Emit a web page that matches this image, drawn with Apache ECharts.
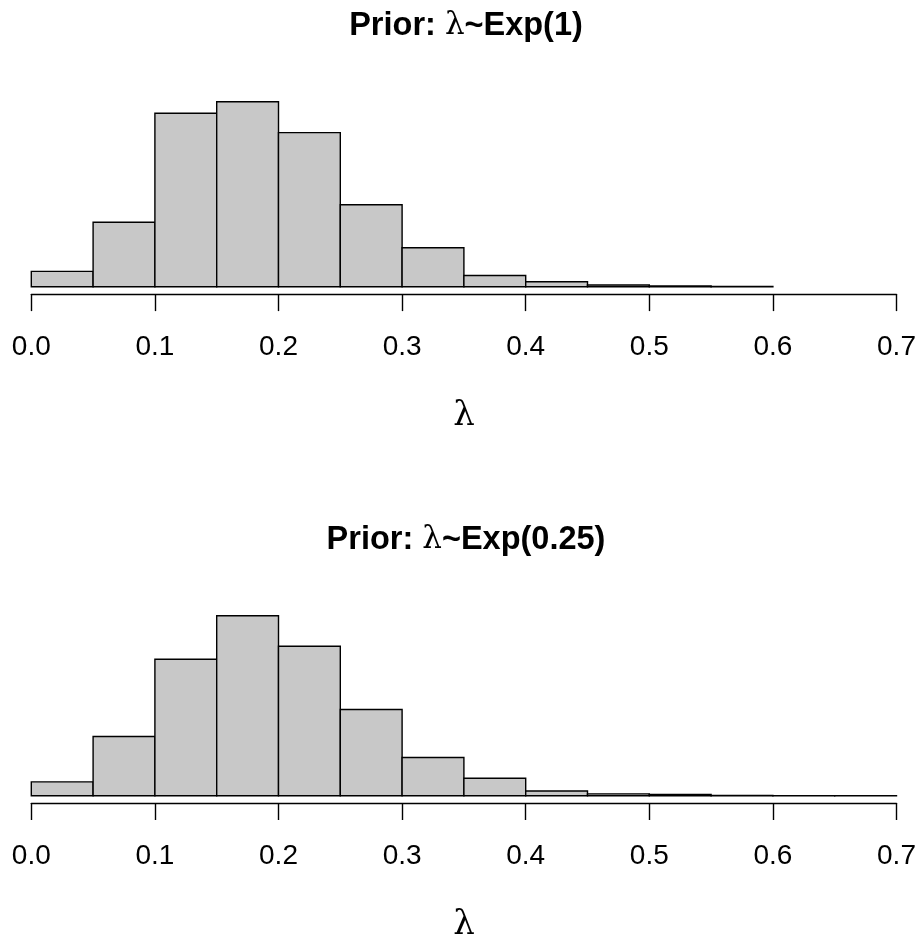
<!DOCTYPE html>
<html>
<head>
<meta charset="utf-8">
<script src="https://cdn.jsdelivr.net/npm/echarts@6/dist/echarts.min.js"></script>
<style>
html,body{margin:0;padding:0;background:#fff;}
#chart{width:920px;height:943px;}
</style>
</head>
<body>
<div id="chart"></div>
<script>
// Histogram bins (left edges), width 0.05
var binWidth = 0.05;
var binStartsTop = [0.00,0.05,0.10,0.15,0.20,0.25,0.30,0.35,0.40,0.45,0.50,0.55];
var countsTop    = [210, 880, 2369, 2527, 2104, 1120, 533, 154, 68, 23, 10, 3];
var binStartsBottom = [0.00,0.05,0.10,0.15,0.20,0.25,0.30,0.35,0.40,0.45,0.50,0.55,0.60,0.65];
var countsBottom    = [202, 860, 1978, 2608, 2167, 1251, 554, 254, 70, 28, 18, 4, 3, 3];
var titleTopRich = '{b|Prior: }{l|λ}{b|~Exp(1)}';
var titleBottomRich = '{b|Prior: }{l|λ}{b|~Exp(0.25)}';
var xLabelName = 'λ';

function toData(starts, counts) {
  return starts.map(function (s, i) { return [s, s + binWidth, counts[i]]; });
}

function renderItem(params, api) {
  var p0 = api.coord([api.value(0), 0]);
  var p1 = api.coord([api.value(1), api.value(2)]);
  return {
    type: 'rect',
    shape: { x: p0[0], y: p1[1], width: p1[0] - p0[0], height: p0[1] - p1[1] },
    style: { fill: '#c8c8c8', stroke: '#000', lineWidth: 1.4 }
  };
}

function xAxisCfg(gridIndex) {
  return {
    gridIndex: gridIndex,
    type: 'value', min: 0, max: 0.7, interval: 0.1,
    axisLine: { show: true, onZero: false, lineStyle: { color: '#000', width: 1.4 } },
    axisTick: { show: true, inside: false, length: 17, lineStyle: { color: '#000', width: 1.4 } },
    splitLine: { show: false },
    axisLabel: {
      margin: 39, fontSize: 28, color: '#000', fontFamily: 'Liberation Sans',
      formatter: function (v) { return v.toFixed(1); },
      showMinLabel: true, showMaxLabel: true
    },
    name: xLabelName, nameLocation: 'middle', nameGap: 105,
    nameTextStyle: { fontFamily: 'DejaVu Serif', fontSize: 34, color: '#000' }
  };
}

function yAxisCfg(gridIndex, counts) {
  var m = Math.max.apply(null, counts);
  return {
    gridIndex: gridIndex, type: 'value', show: false,
    min: -0.04 * m, max: 1.04 * m,
    splitLine: { show: false }
  };
}

var richStyle = {
  b: { fontFamily: 'Liberation Sans', fontWeight: 'bold', fontSize: 32.5, fill: '#000' },
  l: { fontFamily: 'DejaVu Serif', fontSize: 31, fill: '#000' }
};

var chart = echarts.init(document.getElementById('chart'));
chart.setOption({
  animation: false,
  backgroundColor: '#fff',
  grid: [
    { left: 31.3, right: 23.5, top: 94.3, height: 199.8 },
    { left: 31.3, right: 23.5, top: 608.6, height: 199.8 }
  ],
  xAxis: [xAxisCfg(0), xAxisCfg(1)],
  yAxis: [yAxisCfg(0, countsTop), yAxisCfg(1, countsBottom)],
  graphic: [
    { type: 'text', x: 466, y: 26, style: { text: titleTopRich, align: 'center', verticalAlign: 'middle', rich: richStyle } },
    { type: 'text', x: 466, y: 540, style: { text: titleBottomRich, align: 'center', verticalAlign: 'middle', rich: richStyle } }
  ],
  series: [
    { type: 'custom', xAxisIndex: 0, yAxisIndex: 0, renderItem: renderItem,
      encode: { x: [0, 1], y: 2 }, data: toData(binStartsTop, countsTop), clip: false },
    { type: 'custom', xAxisIndex: 1, yAxisIndex: 1, renderItem: renderItem,
      encode: { x: [0, 1], y: 2 }, data: toData(binStartsBottom, countsBottom), clip: false }
  ]
});
</script>
</body>
</html>
